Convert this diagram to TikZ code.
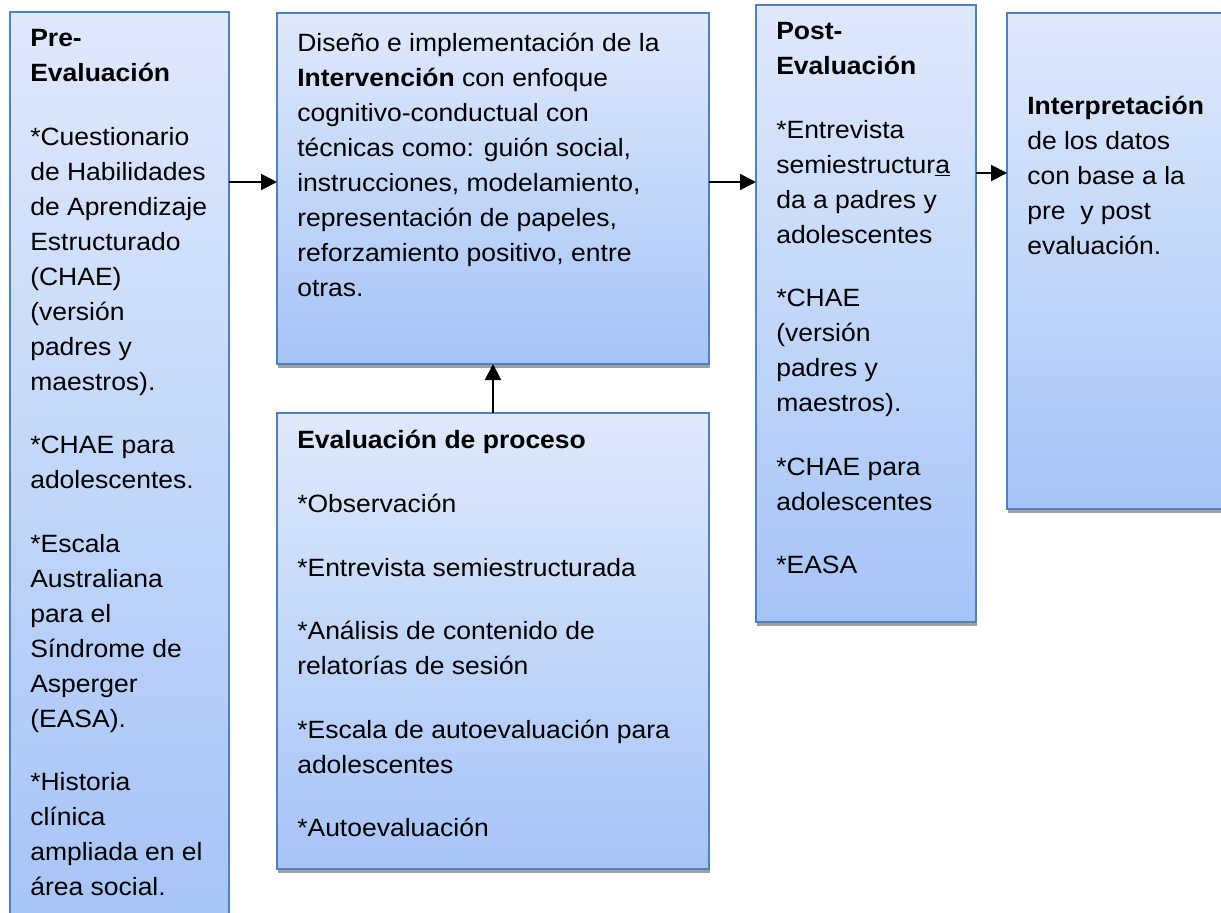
\documentclass[tikz,border=0pt]{standalone}
\usepackage{fontspec}
\setmainfont{Liberation Sans}[FakeStretch=1.06]
\usetikzlibrary{positioning,shadows,arrows.meta}

\definecolor{boxline}{RGB}{79,129,189}
\definecolor{boxtop}{RGB}{223,233,252}
\definecolor{boxbottom}{RGB}{166,196,247}
\definecolor{boxshadow}{RGB}{160,160,160}
\newcommand{\gap}{\\[21.4pt]}

\begin{document}
\begin{tikzpicture}[x=0.75pt, y=-0.75pt,
    rect/.style={rectangle, draw=boxline, line width=1.1pt, top color=boxtop, bottom color=boxbottom,
        inner sep=0pt, outer sep=0pt,
        drop shadow={shadow xshift=0.75pt, shadow yshift=-3pt, fill=boxshadow, opacity=1}},
    txt/.style={align=left, inner sep=0pt, font=\fontsize{18.75pt}{26.25pt}\selectfont},
    arr/.style={-{Triangle[length=12pt, width=12pt]}, line width=1.5pt}]
    \useasboundingbox (0,0) rectangle (1221,913);
    \clip (0,0) rectangle (1221,913);

    % Nodes
    \node[rect, minimum width=164.25pt, minimum height=688.5pt] (pre) at (119.5,471) {};
    \node[txt, below right=12.75pt and 15pt of pre.north west] (pretxt) {\textbf{Pre-}\\\textbf{Evaluación}\gap
        *Cuestionario\\de Habilidades\\de Aprendizaje\\Estructurado\\(CHAE)\\(versión\\padres y\\maestros).\gap
        *CHAE para\\adolescentes.\gap
        *Escala\\Australiana\\para el\\Síndrome de\\Asperger\\(EASA).\gap
        *Historia\\clínica\\ampliada en el\\área social.};

    \node[rect, minimum width=324pt, minimum height=263.25pt] (diseno) at (493,188.5) {};
    \node[txt, below right=14.5pt and 15pt of diseno.north west] (disenotxt) {Diseño e implementación de la\\
        \textbf{Intervención} con enfoque\\cognitivo-conductual con\\técnicas como: guión social,\\
        instrucciones, modelamiento,\\representación de papeles,\\reforzamiento positivo, entre\\otras.};

    \node[rect, minimum width=324pt, minimum height=342pt] (proceso) at (493,641) {};
    \node[txt, below right=13pt and 15pt of proceso.north west] (procesotxt) {\textbf{Evaluación de proceso}\gap
        *Observación\gap
        *Entrevista semiestructurada\gap
        *Análisis de contenido de\\relatorías de sesión\gap
        *Escala de autoevaluación para\\adolescentes\gap
        *Autoevaluación};

    \node[rect, minimum width=165pt, minimum height=462.75pt] (post) at (866,313.5) {};
    \node[txt, below right=12.75pt and 15pt of post.north west] (posttxt) {\textbf{Post-}\\\textbf{Evaluación}\gap
        *Entrevista\\semiestructur\underline{a}\\da a padres y\\adolescentes\gap
        *CHAE\\(versión\\padres y\\maestros).\gap
        *CHAE para\\adolescentes\gap
        *EASA};

    \node[rect, minimum width=174.75pt, minimum height=372pt] (interp) at (1123.5,261) {};
    \node[txt, below right=62.5pt and 15pt of interp.north west] (interptxt) {\textbf{Interpretación}\\
        de los datos\\con base a la\\pre\ \ y post\\evaluación.};

    % Arrows
    \coordinate (row1) at (0,182);
    \coordinate (row3) at (0,173);
    \draw[arr] (pre.east |- row1) -- (diseno.west |- row1);
    \draw[arr] (diseno.east |- row1) -- (post.west |- row1);
    \draw[arr] (post.east |- row3) -- (interp.west |- row3);
    \draw[arr] (proceso.north) -- (diseno.south);
\end{tikzpicture}
\end{document}
